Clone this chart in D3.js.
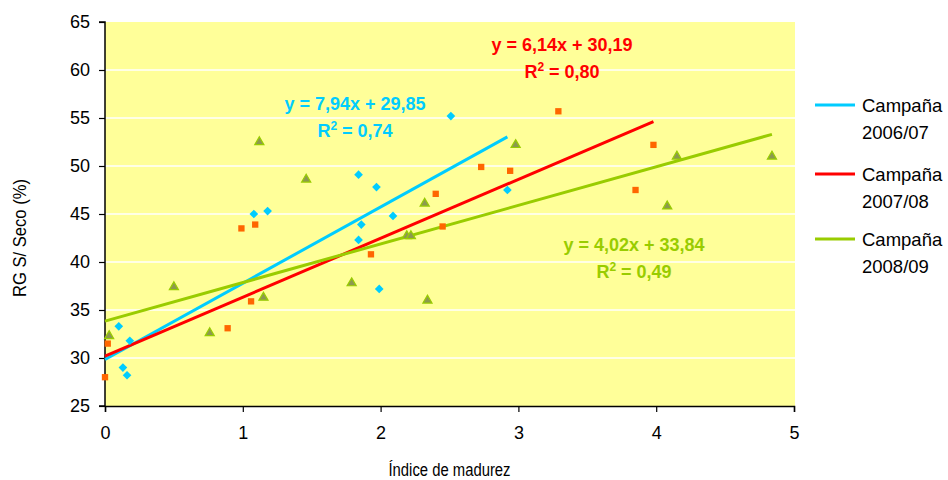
<!DOCTYPE html>
<html>
<head>
<meta charset="utf-8">
<script src="https://cdn.jsdelivr.net/npm/d3@7/dist/d3.min.js"></script>
<style>
  html, body { margin: 0; padding: 0; background: #fff; }
  svg { display: block; font-family: "Liberation Sans", Arial, sans-serif; }
</style>
</head>
<body>
<svg id="chart" width="948" height="480"></svg>
<script>
// Campaign 2006/07 — maturity index vs. RG (dry basis)
const x0607 = [0.10, 0.13, 0.16, 0.18, 1.08, 1.18, 1.84, 1.84, 1.86, 1.97, 1.99, 2.09, 2.51, 2.92];
const y0607 = [33.3, 29.0, 28.2, 31.8, 45.0, 45.3, 49.1, 42.3, 43.9, 47.8, 37.2, 44.8, 55.2, 47.5];

// Campaign 2007/08
const x0708 = [0.00, 0.02, 0.89, 0.99, 1.06, 1.09, 1.93, 2.40, 2.45, 2.73, 2.94, 3.29, 3.85, 3.98];
const y0708 = [28.0, 31.5, 33.1, 43.5, 35.9, 43.9, 40.8, 47.1, 43.7, 49.9, 49.5, 55.7, 47.5, 52.2];

// Campaign 2008/09
const x0809 = [0.03, 0.50, 0.76, 1.12, 1.15, 1.46, 1.79, 2.19, 2.22, 2.32, 2.34, 2.98, 4.08, 4.15, 4.84];
const y0809 = [32.3, 37.4, 32.6, 52.5, 36.3, 48.6, 37.8, 42.7, 42.7, 46.1, 36.0, 52.2, 45.8, 51.0, 51.0];

// Linear trendlines: slope, intercept, R²
const slopes = [7.94, 6.14, 4.02];
const intercepts = [29.85, 30.19, 33.84];
const r2s = ["0,74", "0,80", "0,49"];

const seriesNames = ["Campaña 2006/07", "Campaña 2007/08", "Campaña 2008/09"];
const xTicks = [0, 1, 2, 3, 4, 5];
const yTicks = [25, 30, 35, 40, 45, 50, 55, 60, 65];

const series = [
  { name: seriesNames[0], xs: x0607, ys: y0607, line: "#00CCFF", marker: "diamond", fill: "#00CCFF", stroke: "none", text: "#00CCFF",
    eq: { cx: 355, y: 110 } },
  { name: seriesNames[1], xs: x0708, ys: y0708, line: "#FF0000", marker: "square", fill: "#FF6600", stroke: "none", text: "#FF0000",
    eq: { cx: 562, y: 51 } },
  { name: seriesNames[2], xs: x0809, ys: y0809, line: "#99CC00", marker: "triangle", fill: "#8C9A4E", stroke: "#99CC00", text: "#99CC00",
    eq: { cx: 634, y: 251 } }
];
series.forEach((s, i) => { s.slope = slopes[i]; s.intercept = intercepts[i]; s.r2 = r2s[i]; });

const svg = d3.select("#chart");
const plot = { left: 105, right: 794, top: 22, bottom: 406 };

const x = d3.scaleLinear().domain([0, 5]).range([plot.left, plot.right]);
const y = d3.scaleLinear().domain([25, 65]).range([plot.bottom, plot.top]);

// Plot background
svg.append("rect")
  .attr("x", plot.left).attr("y", plot.top)
  .attr("width", plot.right - plot.left + 1).attr("height", plot.bottom - plot.top)
  .attr("fill", "#FFFF99");

// Horizontal gridlines
svg.append("g").selectAll("line")
  .data(yTicks.filter(t => t > 25 && t < 65))
  .join("line")
  .attr("x1", plot.left).attr("x2", plot.right + 1)
  .attr("y1", d => y(d)).attr("y2", d => y(d))
  .attr("stroke", "#ffffff").attr("stroke-width", 1.5);

// Axes
const yAxis = svg.append("g")
  .attr("transform", `translate(${plot.left},0)`)
  .call(d3.axisLeft(y).tickValues(yTicks).tickSize(6).tickPadding(9).tickFormat(d3.format("d")));
const xAxis = svg.append("g")
  .attr("transform", `translate(0,${plot.bottom})`)
  .call(d3.axisBottom(x).tickValues(xTicks).tickSize(6).tickPadding(14).tickFormat(d3.format("d")));

[yAxis, xAxis].forEach(g => {
  g.select(".domain").attr("stroke", "#000").attr("stroke-width", 1.5);
  g.selectAll(".tick line").attr("stroke", "#000").attr("stroke-width", 1.2);
  g.selectAll(".tick text").attr("fill", "#000").style("font-size", "18px")
    .style("font-family", "'Liberation Sans', Arial, sans-serif");
});
yAxis.select(".domain").attr("d", `M-6,${plot.bottom}H0V${plot.top}H-6`);

// Axis titles
svg.append("text")
  .attr("x", (plot.left + plot.right) / 2).attr("y", 476)
  .attr("text-anchor", "middle")
  .attr("textLength", 122).attr("lengthAdjust", "spacingAndGlyphs")
  .style("font-size", "17.5px")
  .text("Índice de madurez");

svg.append("text")
  .attr("transform", "translate(26,238) rotate(-90)")
  .attr("text-anchor", "middle")
  .attr("textLength", 118).attr("lengthAdjust", "spacingAndGlyphs")
  .style("font-size", "17.5px")
  .text("RG S/ Seco (%)");

// Trendlines from x = 0 to the last observation of each campaign
const lineGen = d3.line().x(d => x(d[0])).y(d => y(d[1]));
svg.append("g").selectAll("path")
  .data(series)
  .join("path")
  .attr("d", s => {
    const xmax = d3.max(s.xs);
    return lineGen([[0, s.intercept], [xmax, s.intercept + s.slope * xmax]]);
  })
  .attr("fill", "none")
  .attr("stroke", s => s.line)
  .attr("stroke-width", 3);

// Markers
const symbolFor = {
  diamond: d3.symbol().type(d3.symbolDiamond2).size(48),
  square: d3.symbol().type(d3.symbolSquare).size(40),
  triangle: d3.symbol().type(d3.symbolTriangle).size(36)
};
series.forEach(s => {
  svg.append("g").selectAll("path")
    .data(s.xs.map((v, i) => [v, s.ys[i]]))
    .join("path")
    .attr("transform", d => `translate(${x(d[0])},${y(d[1])})`)
    .attr("d", symbolFor[s.marker]())
    .attr("fill", s.fill)
    .attr("stroke", s.stroke)
    .attr("stroke-width", 1.2);
});

// Regression equations
series.forEach(s => {
  const fmt = v => d3.format(".2f")(v).replace(".", ",");
  const g = svg.append("g").attr("fill", s.text)
    .style("font-weight", "bold").style("font-size", "18px");
  g.append("text")
    .attr("x", s.eq.cx).attr("y", s.eq.y)
    .attr("text-anchor", "middle")
    .text(`y = ${fmt(s.slope)}x + ${fmt(s.intercept)}`);
  const t = g.append("text")
    .attr("x", s.eq.cx).attr("y", s.eq.y + 27)
    .attr("text-anchor", "middle");
  t.append("tspan").text("R");
  t.append("tspan").attr("dy", -7).style("font-size", "12px").text("2");
  t.append("tspan").attr("dy", 7).text(` = ${s.r2}`);
});

// Legend
const legendY = [105, 174, 239];
const legend = svg.append("g");
series.forEach((s, i) => {
  const ly = legendY[i];
  legend.append("line")
    .attr("x1", 815).attr("x2", 855).attr("y1", ly).attr("y2", ly)
    .attr("stroke", s.line).attr("stroke-width", 3);
  const [w1, w2] = s.name.split(" ");
  legend.append("text").attr("x", 862).attr("y", ly + 7).style("font-size", "18.5px").text(w1);
  legend.append("text").attr("x", 862).attr("y", ly + 34).style("font-size", "18.5px").text(w2);
});
</script>
</body>
</html>
